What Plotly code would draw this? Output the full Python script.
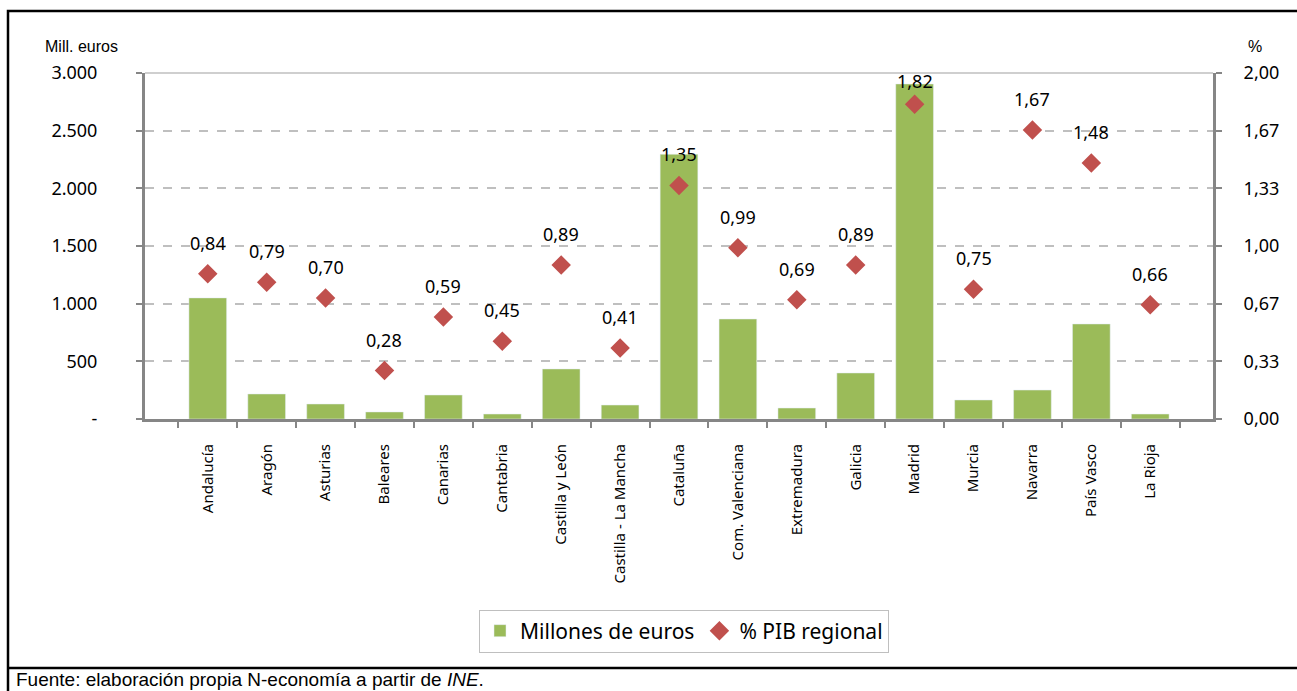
import plotly.graph_objects as go

# Comunidades autónomas
regiones = ["Andalucía", "Aragón", "Asturias", "Baleares", "Canarias", "Cantabria",
            "Castilla y León", "Castilla - La Mancha", "Cataluña", "Com. Valenciana",
            "Extremadura", "Galicia", "Madrid", "Murcia", "Navarra", "País Vasco", "La Rioja"]
millones_euros = [1050, 217, 130, 61, 208, 43, 434, 121, 2295, 867, 95, 399, 2905, 165, 251, 824, 43]
pct_pib = [0.84, 0.79, 0.70, 0.28, 0.59, 0.45, 0.89, 0.41, 1.35, 0.99, 0.69, 0.89, 1.82, 0.75, 1.67, 1.48, 0.66]

y_ticks = [0, 500, 1000, 1500, 2000, 2500, 3000]
y_ticktext = ["-", "500", "1.000", "1.500", "2.000", "2.500", "3.000"]
y2_ticks = [0, 1 / 3, 2 / 3, 1, 4 / 3, 5 / 3, 2]
y2_ticktext = ["0,00", "0,33", "0,67", "1,00", "1,33", "1,67", "2,00"]

W, H = 1297, 691
L, R, T, B = 145, 1213, 73, 419  # plot area in pixels


def px(x):
  return (x - L) / (R - L)


def py(y):
  return (B - y) / (B - T)


GREEN = "#9BBB59"
RED = "#C0504D"
AXIS = "#868686"
FONT = "Noto Sans"

fig = go.Figure()
fig.add_trace(go.Bar(x=regiones, y=millones_euros, name="Millones de euros",
                     marker_color=GREEN, yaxis="y"))
fig.add_trace(go.Scatter(x=regiones, y=pct_pib, name="% PIB regional", yaxis="y2",
                         mode="markers",
                         marker=dict(symbol="diamond", size=15, color=RED)))

# Data labels above the diamonds (Madrid's label sits lower, as in the original)
for reg, v in zip(regiones, pct_pib):
  fig.add_annotation(x=reg, y=v, xref="x", yref="y2", yshift=23 if reg == "Madrid" else 31,
                     text=f"{v:.2f}".replace(".", ","), showarrow=False,
                     font=dict(family=FONT, size=18, color="black"))

fig.update_layout(
  width=W, height=H,
  margin=dict(l=L, r=W - R, t=T, b=H - B),
  paper_bgcolor="white", plot_bgcolor="white",
  bargap=0.36,
  showlegend=True,
  legend=dict(orientation="h", x=px(684), y=py(631), xanchor="center", yanchor="middle",
              bordercolor="#BFBFBF", borderwidth=1, font=dict(family=FONT, size=21, color="black"),
              itemwidth=30, tracegroupgap=0),
  xaxis=dict(showline=True, linecolor=AXIS, linewidth=3, ticks="outside", tickson="boundaries",
             ticklen=6, tickcolor=AXIS, tickwidth=2, tickangle=-90,
             tickfont=dict(family=FONT, size=15, color="black"), ticklabelstandoff=16),
  yaxis=dict(range=[0, 3000], tickvals=y_ticks, ticktext=y_ticktext,
             showline=True, linecolor=AXIS, linewidth=3, ticks="outside", ticklen=6,
             tickcolor=AXIS, tickwidth=2, showgrid=True, gridcolor="#BFBFBF", gridwidth=1.5,
             griddash="dash", zeroline=False, tickfont=dict(family=FONT, size=18, color="black"),
             ticklabelstandoff=35),
  yaxis2=dict(range=[0, 2], tickvals=y2_ticks, ticktext=y2_ticktext, overlaying="y", side="right",
              showline=True, linecolor=AXIS, linewidth=3, ticks="outside", ticklen=6,
              tickcolor=AXIS, tickwidth=2, showgrid=False, zeroline=False,
              tickfont=dict(family=FONT, size=18, color="black"), ticklabelstandoff=18),
)

# Top gridline drawn solid, like in the original
fig.add_shape(type="line", xref="paper", yref="paper", x0=0, x1=1, y0=1, y1=1,
              line=dict(color="#BFBFBF", width=1.5))

# Outer frame (runs past the bottom edge) and footer separator
fig.add_shape(type="rect", xref="paper", yref="paper", x0=px(8), x1=px(1310), y0=py(700), y1=py(11),
              line=dict(color="black", width=2.5), layer="below")
fig.add_shape(type="line", xref="paper", yref="paper", x0=px(8), x1=px(1310), y0=py(668), y1=py(668),
              line=dict(color="black", width=2.5), layer="below")

fig.add_annotation(text="Mill. euros", xref="paper", yref="paper", x=px(43), y=py(47),
                   xanchor="left", yanchor="middle", showarrow=False,
                   font=dict(family="Liberation Sans", size=16, color="black"))
fig.add_annotation(text="%", xref="paper", yref="paper", x=px(1255), y=py(47),
                   xanchor="center", yanchor="middle", showarrow=False,
                   font=dict(family="Liberation Sans", size=16, color="black"))
fig.add_annotation(text="Fuente: elaboración propia N-economía a partir de <i>INE</i>.",
                   xref="paper", yref="paper", x=px(14), y=py(679),
                   xanchor="left", yanchor="middle", showarrow=False,
                   font=dict(family="Liberation Sans", size=19, color="black"))

fig.write_html("out.html", config={"displayModeBar": False},
               post_script="document.body.style.margin='0';")
